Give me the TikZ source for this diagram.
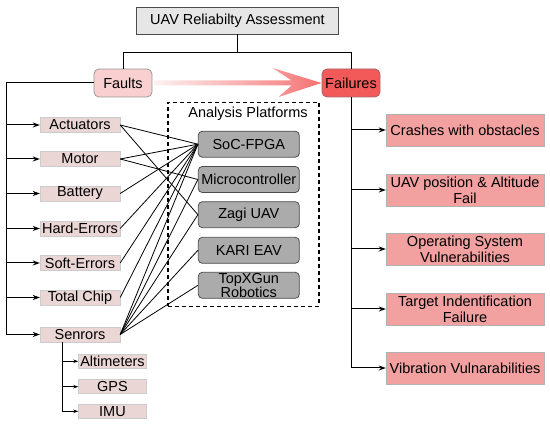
\documentclass[tikz,border=0pt]{standalone}
\usepackage{fontspec}
\setmainfont{Liberation Sans}
\usetikzlibrary{arrows.meta,calc}
\definecolor{rootgray}{HTML}{E6E6E6}
\definecolor{faultpink}{HTML}{F9CFCF}
\definecolor{failred}{HTML}{F25A5A}
\definecolor{itempink}{HTML}{EAD6D4}
\definecolor{platgray}{HTML}{ABABAB}
\definecolor{failpink}{HTML}{F2A0A0}

\begin{document}
\begin{tikzpicture}[
  x=1pt, y=-1pt,
  every node/.style={font=\fontsize{14.5}{16}\selectfont, inner sep=0pt, align=center},
  rootbox/.style={draw=black!70, fill=rootgray, thick, minimum width=202pt, minimum height=27pt},
  faultbox/.style={draw=black!40, fill=faultpink, thick, rounded corners=5pt, minimum width=58pt, minimum height=28pt},
  failbox/.style={draw=red!40!black!60, fill=failred, thick, rounded corners=5pt, minimum width=58pt, minimum height=28pt},
  fitem/.style={draw=black!20, fill=itempink, minimum width=80pt, minimum height=15pt},
  sitem/.style={draw=black!20, fill=itempink, minimum width=68pt, minimum height=14pt},
  pitem/.style={draw=black!70, fill=platgray, thick, rounded corners=4pt, minimum width=101pt, minimum height=26pt},
  litem/.style={draw=black!30, fill=failpink, minimum width=158pt, minimum height=32pt},
  platbox/.style={draw=black, line width=1.2pt, dash pattern=on 4pt off 3pt, minimum width=151pt, minimum height=204pt},
  edge/.style={line width=1pt, draw=black},
  arr/.style={edge, -{Stealth[length=7pt, width=5pt]}},
  sarr/.style={edge, -{Stealth[length=5pt, width=3.5pt]}},
  link/.style={line width=0.8pt, draw=black}
]
  \useasboundingbox (0,0) rectangle (550,427);

  % Raíz y las dos ramas
  \node[rootbox] (root) at (237.5,20.5) {UAV Reliabilty Assessment};
  \node[faultbox] (faults) at (123,83) {Faults};
  \node[failbox] (failures) at (351,83) {Failures};
  \draw[edge] (root.south) -- ++(0,18) -| (faults.north);
  \draw[edge] (root.south) -- ++(0,18) -| (failures.north);

  % Flecha sombreada de Faults a Failures
  \shade[left color=faultpink!30, right color=failred!85]
    ($(faults.east)+(2,-2.5)$) -- ($(failures.west)+(-30,-2.5)$) --
    ($(failures.west)+(-49,-15)$) -- (failures.west) --
    ($(failures.west)+(-43,14)$) -- ($(failures.west)+(-30,2.5)$) --
    ($(faults.east)+(2,2.5)$) -- cycle;

  % Marco punteado de plataformas
  \node[platbox] (plat) at (243.5,204.5) {};
  \node (platlbl) at (248,114) {Analysis Platforms};
  \foreach \i/\txt/\y in {1/SoC-FPGA/144.2, 2/Microcontroller/179.5, 3/Zagi UAV/214.7, 4/KARI EAV/250.3}
    \node[pitem] (pl\i) at (248.8,\y) {\txt};
  \node[pitem, font=\fontsize{14.5}{12}\selectfont] (pl5) at (248.8,285.3) {TopXGun\\Robotics};

  % Fallos (izquierda)
  \foreach \i/\txt/\y in {1/Actuators/125, 2/Motor/159, 3/Battery/193.5, 4/Hard-Errors/228.5,
                          5/Soft-Errors/263, 6/Total Chip/297.5, 7/Senrors/334.5}
    \node[fitem] (fa\i) at (80,\y) {\txt};
  \coordinate (lt) at (6.7,83);
  \draw[arr] (faults.west) -- (lt) |- (fa7.west);
  \foreach \i in {1,...,6}
    \draw[arr] (lt |- fa\i.west) -- (fa\i.west);

  % Sensores
  \foreach \i/\txt/\y in {1/Altimeters/361.3, 2/GPS/386.7, 3/IMU/411.3}
    \node[sitem] (sb\i) at (112.5,\y) {\txt};
  \coordinate (st) at ($(fa7.south west)+(22.7,0)$);
  \draw[sarr] (st) |- (sb3.west);
  \foreach \i in {1,2}
    \draw[sarr] (st |- sb\i.west) -- (sb\i.west);

  % Enlaces fallo - plataforma
  \foreach \i/\j in {1/1, 1/3, 2/1, 2/2, 3/1, 4/1, 5/1, 6/1, 7/1, 7/2, 7/3, 7/4, 7/5}
    \draw[link] (fa\i.east) -- (pl\j.west);

  % Averías (derecha)
  \foreach \i/\txt/\y in {1/Crashes with obstacles/130, 2/UAV position \& Altitude\\Fail/190,
                          3/Operating System\\Vulnerabilities/249, 4/Target Indentification\\Failure/309,
                          5/Vibration Vulnarabilities/368}
    \node[litem] (fl\i) at (465,\y) {\txt};
  \draw[arr] (failures.south) |- (fl5.west);
  \foreach \i in {1,...,4}
    \draw[arr] (failures.south |- fl\i.west) -- (fl\i.west);
\end{tikzpicture}
\end{document}
